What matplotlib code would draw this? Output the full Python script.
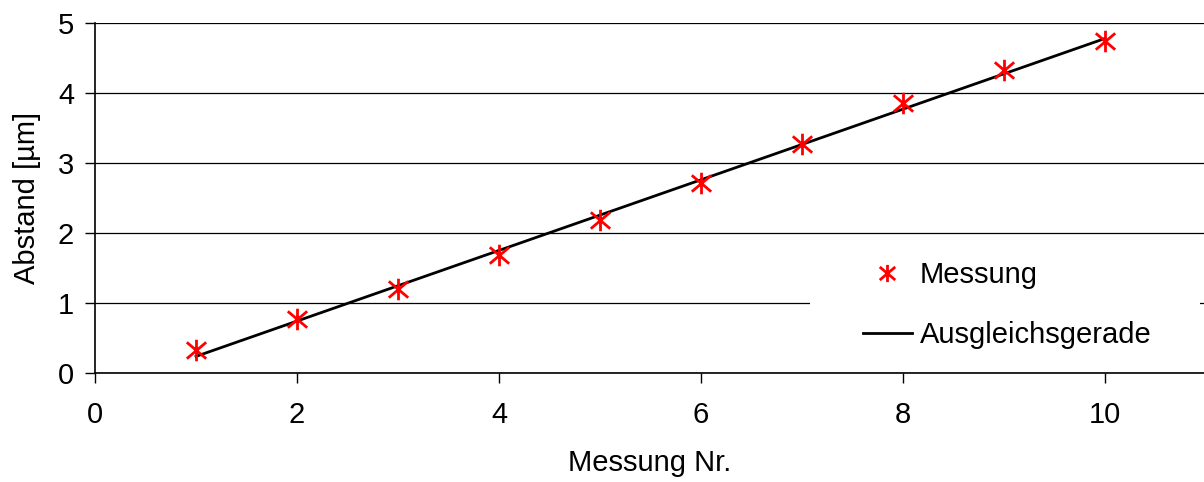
import numpy as np
import matplotlib
matplotlib.use("Agg")
import matplotlib.pyplot as plt
from matplotlib.path import Path
from matplotlib.patches import Rectangle

# Measured distances per measurement number
messung_nr = np.arange(1, 11)
abstand = [0.33, 0.77, 1.20, 1.69, 2.19, 2.71, 3.27, 3.85, 4.33, 4.74]

x_ticks = [0, 2, 4, 6, 8, 10]
y_ticks = [0, 1, 2, 3, 4, 5]

plt.rcParams['font.family'] = ['Liberation Sans', 'DejaVu Sans']
FS = 21

# Least-squares fit line
slope, intercept = np.polyfit(messung_nr, abstand, 1)
fit_y = slope * messung_nr + intercept

# Asterisk marker: vertical stroke plus an X
ast = Path(
    [(0, -0.5), (0, 0.5), (-0.45, -0.38), (0.45, 0.38), (-0.45, 0.38), (0.45, -0.38)],
    [Path.MOVETO, Path.LINETO, Path.MOVETO, Path.LINETO, Path.MOVETO, Path.LINETO],
)

fig = plt.figure(figsize=(12.04, 4.82), dpi=100)
ax = fig.add_axes([95 / 1204, 1 - 373.3 / 482, 1 - 95 / 1204, (373.3 - 22.7) / 482])

ax.set_xlim(0, 10.98)
ax.set_ylim(0, 5)
ax.set_xticks(x_ticks)
ax.set_yticks(y_ticks)

ax.set_axisbelow(True)
ax.grid(axis='y', color='black', linewidth=0.9)

ax.plot(messung_nr, abstand, linestyle='none', marker=ast, markersize=15.5,
        markeredgewidth=2.0, color='red', label='Messung', zorder=3)
ax.plot(messung_nr, fit_y, color='black', linewidth=2.0, label='Ausgleichsgerade', zorder=2)

# white backing behind the legend
ax.add_patch(Rectangle((0.645, 0.024), 0.351, 0.342, transform=ax.transAxes,
                       facecolor='white', edgecolor='none', zorder=1))

for s in ['top', 'right']:
    ax.spines[s].set_visible(False)
for s in ['left', 'bottom']:
    ax.spines[s].set_linewidth(1.2)
    ax.spines[s].set_color('black')

ax.tick_params(axis='both', direction='out', length=7, width=1, labelsize=FS, color='black')
ax.tick_params(axis='x', pad=13)
ax.tick_params(axis='y', pad=8)

ax.set_xlabel('Messung Nr.', fontsize=FS, labelpad=14)
ax.set_ylabel('Abstand [µm]', fontsize=FS, labelpad=12)

leg = ax.legend(loc='center', bbox_to_anchor=(1007 / 1204, 1 - 305 / 482),
                bbox_transform=fig.transFigure, frameon=False, fontsize=FS,
                handlelength=1.7, handletextpad=0.25, labelspacing=1.1,
                markerscale=0.8)

fig.savefig('out.png', dpi=100)
